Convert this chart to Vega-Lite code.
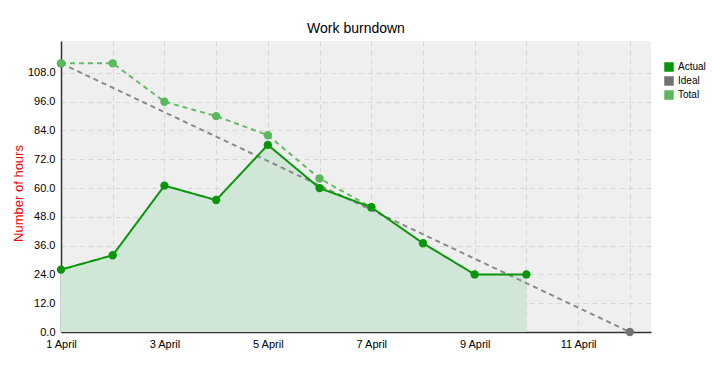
{
  "$schema": "https://vega.github.io/schema/vega-lite/v6.json",
  "autosize": "none",
  "width": 590,
  "height": 291,
  "padding": {"left": 61, "top": 41, "right": 61, "bottom": 42},
  "background": "white",
  "config": {
    "font": "Liberation Sans",
    "view": {"fill": "#efefef", "stroke": null},
    "legend": {
      "title": null, "orient": "none", "legendX": 603, "legendY": 21,
      "symbolType": "square", "symbolSize": 90, "symbolStrokeWidth": 0,
      "labelFontSize": 10, "labelColor": "#000", "rowPadding": 4, "labelOffset": 4
    }
  },
  "title": {"text": "Work burndown", "fontSize": 14, "fontWeight": "normal", "color": "#000", "offset": 5, "anchor": "middle"},
  "data": {
    "values": [
      {"series": "Ideal", "day": 1, "hours": 112},
      {"series": "Ideal", "day": 12, "hours": 0},
      {"series": "Total", "day": 1, "hours": 112},
      {"series": "Total", "day": 2, "hours": 112},
      {"series": "Total", "day": 3, "hours": 96},
      {"series": "Total", "day": 4, "hours": 90},
      {"series": "Total", "day": 5, "hours": 82},
      {"series": "Total", "day": 6, "hours": 64},
      {"series": "Total", "day": 7, "hours": 52},
      {"series": "Actual", "day": 1, "hours": 26},
      {"series": "Actual", "day": 2, "hours": 32},
      {"series": "Actual", "day": 3, "hours": 61},
      {"series": "Actual", "day": 4, "hours": 55},
      {"series": "Actual", "day": 5, "hours": 78},
      {"series": "Actual", "day": 6, "hours": 60},
      {"series": "Actual", "day": 7, "hours": 52},
      {"series": "Actual", "day": 8, "hours": 37},
      {"series": "Actual", "day": 9, "hours": 24},
      {"series": "Actual", "day": 10, "hours": 24}
    ]
  },
  "encoding": {
    "x": {
      "field": "day", "type": "quantitative",
      "scale": {"domain": [1, 12.41], "nice": false, "zero": false},
      "axis": {
        "title": null,
        "values": [1, 2, 3, 4, 5, 6, 7, 8, 9, 10, 11, 12],
        "labelExpr": "datum.value % 2 == 1 ? datum.value + ' April' : ''",
        "ticks": false, "labelPadding": 6, "labelFontSize": 11, "labelColor": "#000",
        "labelFlush": false, "labelOverlap": false,
        "domainColor": "#333", "domainWidth": 1.5,
        "grid": true, "gridColor": "#d6d6d6", "gridDash": [5, 4], "gridWidth": 1
      }
    },
    "y": {
      "field": "hours", "type": "quantitative",
      "scale": {"domain": [0, 121.3], "nice": false},
      "axis": {
        "title": "Number of hours", "titleColor": "red", "titleFontSize": 13, "titleFontWeight": "normal",
        "titleX": -43, "titleY": 152, "titleAlign": "center", "titleBaseline": "middle", "titleAngle": -90,
        "values": [0, 12, 24, 36, 48, 60, 72, 84, 96, 108],
        "format": ".1f",
        "ticks": false, "labelPadding": 6, "labelFontSize": 11, "labelColor": "#000",
        "domainColor": "#333", "domainWidth": 1.5,
        "grid": true, "gridColor": "#d6d6d6", "gridDash": [5, 4], "gridWidth": 1
      }
    }
  },
  "layer": [
    {
      "transform": [{"filter": "datum.series == 'Actual'"}],
      "mark": {"type": "area", "color": "#d0e6d6", "opacity": 1}
    },
    {
      "mark": {"type": "line", "strokeWidth": 2},
      "encoding": {
        "stroke": {
          "field": "series", "type": "nominal",
          "scale": {"domain": ["Actual", "Ideal", "Total"], "range": ["#0a960a", "#8a8a8a", "#66bb66"]}
        },
        "strokeDash": {
          "field": "series", "type": "nominal",
          "scale": {"domain": ["Actual", "Ideal", "Total"], "range": [[1, 0], [5, 4], [5, 4]]}
        }
      }
    },
    {
      "mark": {"type": "circle", "size": 70, "opacity": 1},
      "encoding": {
        "fill": {
          "field": "series", "type": "nominal",
          "scale": {"domain": ["Actual", "Ideal", "Total"], "range": ["#0a960a", "#727272", "#5cb85c"]}
        }
      }
    }
  ]
}
